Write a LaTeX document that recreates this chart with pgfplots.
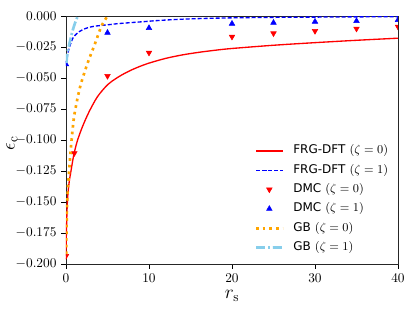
\documentclass[border=0pt]{standalone}
\usepackage{pgfplots}
\pgfplotsset{compat=1.18}
\usepackage{fontspec}
\setsansfont{DejaVu Sans}
\definecolor{mporange}{HTML}{FFA500}
\definecolor{mpsky}{HTML}{87CEEB}
\begin{document}
\begin{tikzpicture}
\begin{axis}[
  name=ax,
  scale only axis,
  width=249pt, height=186pt,
  xmin=0, xmax=40, ymin=-0.2, ymax=0,
  xtick={0,10,20,30,40},
  ytick={-0.2,-0.175,-0.15,-0.125,-0.1,-0.075,-0.05,-0.025,0},
  y tick label style={/pgf/number format/.cd, fixed, fixed zerofill, precision=3},
  tick align=outside, tick pos=left,
  major tick length=3.6pt,
  tick style={black, line width=0.6pt},
  axis line style={black!85, line width=0.6pt},
  clip marker paths=true,
  xlabel={$r_{\mathrm{s}}$},
  ylabel={$\epsilon_{\mathrm{c}}$},
  xlabel style={font=\Large, at={(axis description cs:0.5,-0.128)}, anchor=center},
  ylabel style={font=\Large, at={(axis description cs:-0.163,0.488)}, anchor=center},
  legend cell align=left,
  legend style={at={(0.975,0.035)}, anchor=south east, draw=none, fill=none,
    font=\small, inner sep=1pt, row sep=5.2pt,
    nodes={inner sep=0pt, text height=7pt, text depth=2.3pt},
    /tikz/every odd column/.append style={column sep=7pt}},
  legend image code/.code={\draw[mark repeat=2,mark phase=2] plot coordinates {(0pt,0pt) (10pt,0pt) (20pt,0pt)};},
]
% FRG-DFT zeta=0
\addplot[red, line width=1pt, smooth, no markers] coordinates {
(0,-0.1935) (0.02,-0.183) (0.06,-0.172) (0.1,-0.162) (0.15,-0.152) (0.25,-0.142)
(0.4,-0.133) (0.6,-0.125) (0.8,-0.117) (1.0,-0.110) (1.4,-0.100) (2.0,-0.089)
(2.8,-0.077) (3.8,-0.065) (5,-0.0555) (6,-0.0505) (7,-0.0465) (8,-0.0432) (9,-0.0404)
(10,-0.0380) (12,-0.0342) (14,-0.0314) (16,-0.0293) (18,-0.0276) (20,-0.0262) (25,-0.0236)
(30,-0.0215) (35,-0.0196) (40,-0.0179)};
\addlegendentry{\textsf{FRG-DFT} ($\zeta=0$)}
% FRG-DFT zeta=1
\addplot[blue, line width=1pt, smooth, no markers, dash pattern=on 3pt off 1.5pt] coordinates {
(0,-0.039) (0.05,-0.0375) (0.1,-0.0355) (0.2,-0.031) (0.42,-0.025) (0.82,-0.018)
(1.2,-0.0148) (1.6,-0.0126) (2.2,-0.0105) (2.8,-0.0091) (3.5,-0.0082) (4.4,-0.0075)
(5.3,-0.0069) (6.2,-0.0062) (7.7,-0.0054) (9.3,-0.0046) (11,-0.0037) (13.3,-0.0028)
(16,-0.0021) (20,-0.0015) (25,-0.0011) (30,-0.0009) (35,-0.0007) (40,-0.0006)};
\addlegendentry{\textsf{FRG-DFT} ($\zeta=1$)}
% DMC zeta=0
\addplot[only marks, red, mark=triangle*, mark size=2.4pt, mark options={rotate=180}] coordinates {
(0,-0.1935) (1,-0.1107) (5,-0.0484) (10,-0.0296) (20,-0.0167) (25,-0.0140)
(30,-0.0121) (35,-0.0102) (40,-0.0086)};
\addlegendentry{\textsf{DMC} ($\zeta=0$)}
% DMC zeta=1
\addplot[only marks, blue, mark=triangle*, mark size=2.4pt] coordinates {
(0,-0.039) (5,-0.0135) (10,-0.0097) (20,-0.0062) (25,-0.0054) (30,-0.0046)
(35,-0.0040) (40,-0.0032)};
\addlegendentry{\textsf{DMC} ($\zeta=1$)}
% GB zeta=0
\addplot[mporange, line width=2pt, smooth, no markers, dash pattern=on 2pt off 3pt] coordinates {
(0.02,-0.192) (0.05,-0.176) (0.1,-0.160) (0.2,-0.142) (0.3,-0.132) (0.42,-0.121)
(0.62,-0.104) (0.82,-0.090) (1.0,-0.080) (1.4,-0.066) (1.83,-0.054) (2.6,-0.038)
(3.4,-0.024) (4.25,-0.0085) (4.85,-0.0015) (5.0,0.001)};
\addlegendentry{\textsf{GB} ($\zeta=0$)}
% GB zeta=1
\addplot[mpsky, line width=2pt, smooth, no markers, dash pattern=on 7pt off 2pt on 1.5pt off 2pt] coordinates {
(0.05,-0.038) (0.1,-0.034) (0.2,-0.029) (0.42,-0.022) (0.6,-0.017) (0.82,-0.0113)
(1.1,-0.0055) (1.42,0.0) (1.5,0.0015)};
\addlegendentry{\textsf{GB} ($\zeta=1$)}
\end{axis}
\pgfresetboundingbox
\path[use as bounding box] ([xshift=-49.5pt,yshift=-36pt]ax.south west) rectangle ([xshift=12.75pt,yshift=12pt]ax.north east);
\end{tikzpicture}
\end{document}
